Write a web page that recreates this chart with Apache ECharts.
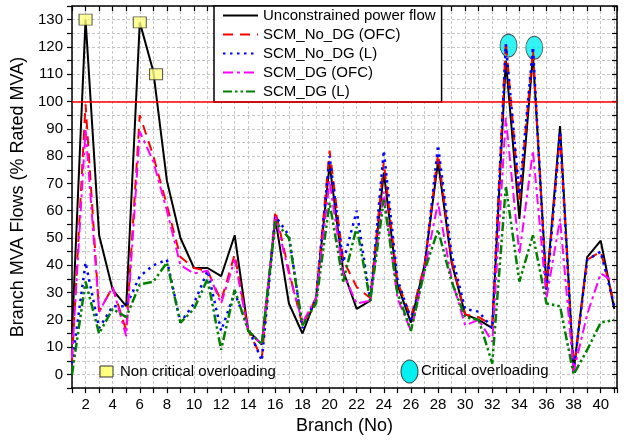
<!DOCTYPE html>
<html>
<head>
<meta charset="utf-8">
<script src="https://cdn.jsdelivr.net/npm/echarts@6/dist/echarts.min.js"></script>
<style>
    html, body { margin: 0; padding: 0; background: #fff; }
    #chart { width: 629px; height: 440px; }
</style>
</head>
<body>
<div id="chart"></div>
<script>
var branches = [1, 2, 3, 4, 5, 6, 7, 8, 9, 10, 11, 12, 13, 14, 15, 16, 17, 18, 19, 20,
    21, 22, 23, 24, 25, 26, 27, 28, 29, 30, 31, 32, 33, 34, 35, 36, 37, 38, 39, 40, 41];

var unconstrained = [15, 130, 51, 31, 25, 129, 111, 71, 50, 39, 39, 36, 51, 16, 11, 57, 26, 15, 28, 77,
    38, 24, 27, 74, 33, 19, 40, 78, 41, 22, 20, 17, 115, 57, 117, 32, 91, 1, 43, 49, 24];
var noDgOfc = [5, 99, 23, 32, 16, 95, 80, 62, 43, 39, 38, 27, 44, 16, 6, 60, 38, 18, 28, 82,
    42, 32, 28, 78, 34, 21, 40, 81, 42, 22, 21, 18, 122, 64, 119, 31, 88, 1, 42, 45, 26];
var noDgL = [4, 41, 17, 25, 25, 36, 40, 42, 19, 26, 38, 16, 30, 17, 5, 58, 51, 17, 28, 80,
    41, 60, 27, 82, 35, 20, 38, 84, 44, 24, 23, 17, 121, 66, 120, 29, 89, 1, 42, 45, 25];
var dgOfc = [6, 90, 23, 32, 14, 89, 78, 60, 40, 37, 38, 26, 42, 16, 11, 58, 37, 19, 28, 71,
    37, 26, 27, 67, 28, 16, 38, 63, 35, 18, 20, 12, 94, 44, 82, 28, 57, 1, 22, 37, 34];
var dgL = [0, 34, 15, 24, 21, 33, 34, 41, 19, 24, 35, 9, 31, 16, 11, 56, 50, 18, 26, 63,
    34, 54, 27, 64, 30, 16, 38, 53, 34, 21, 20, 4, 69, 34, 51, 26, 25, 0, 9, 19, 20];

var nonCriticalPts = [[2, 130], [6, 129], [7.2, 110]];
var criticalPts = [[33.2, 120.5], [35.1, 119.7]];

var seriesNames = ['Unconstrained power flow', 'SCM_No_DG (OFC)', 'SCM_No_DG (L)', 'SCM_DG (OFC)', 'SCM_DG (L)'];
var ratedLimit = 100;

var fontFamily = 'Liberation Sans, Arial, sans-serif';

function pairs(values) {
    return branches.map(function (b, i) {
        return [b, values[i]];
    });
}

function lineSeries(name, values, color, width, dash) {
    return {
        name: name,
        type: 'line',
        data: pairs(values),
        symbol: 'none',
        color: color,
        lineStyle: {color: color, width: width, type: dash},
        z: 3
    };
}

var gridLine = {show: true, lineStyle: {color: '#c8c8c8', width: 1, type: [3, 2]}};
var axisBlack = {show: true, onZero: false, lineStyle: {color: '#000', width: 1.5}};

var myChart = echarts.init(document.getElementById('chart'));
var option = {
    animation: false,
    backgroundColor: '#fff',
    textStyle: {fontFamily: fontFamily},
    grid: {left: 72, right: 12, top: 6, bottom: 49},
    legend: {
        data: seriesNames,
        orient: 'vertical',
        left: 214,
        top: 6,
        itemWidth: 35,
        itemHeight: 14,
        itemGap: 4,
        padding: [2, 6, 3, 8],
        borderColor: '#000',
        borderWidth: 1.5,
        backgroundColor: '#fff',
        itemStyle: {opacity: 0},
        textStyle: {fontSize: 15, color: '#000', fontFamily: fontFamily}
    },
    xAxis: [
        {
            type: 'value',
            min: 1,
            max: 41.2,
            interval: 1,
            name: 'Branch (No)',
            nameLocation: 'middle',
            nameGap: 27,
            nameTextStyle: {fontSize: 18, color: '#000', fontFamily: fontFamily},
            axisLine: axisBlack,
            axisTick: {inside: false, length: 5, lineStyle: {color: '#000', width: 1.2}},
            axisLabel: {
                fontSize: 15,
                color: '#000',
                margin: 9,
                formatter: function (v) {
                    return (v % 2 === 0) ? String(v) : '';
                }
            },
            splitLine: gridLine
        },
        {
            type: 'value',
            position: 'top',
            min: 1,
            max: 41.2,
            interval: 1,
            axisLine: axisBlack,
            axisTick: {inside: true, length: 5, lineStyle: {color: '#000', width: 1.2}},
            axisLabel: {show: false},
            splitLine: {show: false}
        }
    ],
    yAxis: [
        {
            type: 'value',
            min: -5,
            max: 135,
            interval: 5,
            name: 'Branch MVA Flows (% Rated MVA)',
            nameLocation: 'middle',
            nameGap: 40,
            nameTextStyle: {fontSize: 18, color: '#000', fontFamily: fontFamily},
            axisLine: axisBlack,
            axisTick: {inside: false, length: 5, lineStyle: {color: '#000', width: 1.2}},
            axisLabel: {
                fontSize: 15,
                color: '#000',
                margin: 9,
                formatter: function (v) {
                    return (v >= 0 && v % 10 === 0) ? String(v) : '';
                }
            },
            splitLine: gridLine
        },
        {
            type: 'value',
            position: 'right',
            min: -5,
            max: 135,
            interval: 5,
            axisLine: axisBlack,
            axisTick: {inside: true, length: 5, lineStyle: {color: '#000', width: 1.2}},
            axisLabel: {show: false},
            splitLine: {show: false}
        }
    ],
    series: [
        (function () {
            var s = lineSeries(seriesNames[0], unconstrained, '#000000', 2, 'solid');
            s.markLine = {
                silent: true,
                symbol: ['none', 'none'],
                label: {show: false},
                lineStyle: {color: '#ff0000', width: 1.5, type: 'solid'},
                data: [{yAxis: ratedLimit}]
            };
            return s;
        })(),
        lineSeries(seriesNames[1], noDgOfc, '#ff0000', 2, [10, 7]),
        lineSeries(seriesNames[2], noDgL, '#0000ff', 2.5, [2.5, 4.5]),
        lineSeries(seriesNames[3], dgOfc, '#ff00ff', 2, [10, 4, 3, 4]),
        lineSeries(seriesNames[4], dgL, '#008000', 2.5, [9, 3, 2.5, 3, 2.5, 3]),
        {
            name: 'Non critical overloading',
            type: 'scatter',
            data: nonCriticalPts,
            symbol: 'rect',
            symbolSize: [13, 11],
            itemStyle: {color: '#ffff80', borderColor: '#333', borderWidth: 1},
            z: 5
        },
        {
            name: 'Critical overloading',
            type: 'scatter',
            data: criticalPts,
            symbol: 'circle',
            symbolSize: [17, 23],
            itemStyle: {color: '#00f0f0', borderColor: '#333', borderWidth: 1},
            z: 2
        }
    ],
    graphic: [
        {
            type: 'rect',
            shape: {x: 100, y: 366, width: 13, height: 11},
            style: {fill: '#ffff80', stroke: '#333', lineWidth: 1},
            z: 10
        },
        {
            type: 'text',
            x: 120,
            y: 372,
            style: {text: 'Non critical overloading', fontSize: 15, fontFamily: fontFamily, fill: '#000', verticalAlign: 'middle'},
            z: 10
        },
        {
            type: 'ellipse',
            shape: {cx: 409.5, cy: 371.5, rx: 8.5, ry: 11.5},
            style: {fill: '#00f0f0', stroke: '#333', lineWidth: 1},
            z: 10
        },
        {
            type: 'text',
            x: 421,
            y: 371,
            style: {text: 'Critical overloading', fontSize: 15, fontFamily: fontFamily, fill: '#000', verticalAlign: 'middle'},
            z: 10
        }
    ]
};

myChart.setOption(option);
</script>
</body>
</html>
